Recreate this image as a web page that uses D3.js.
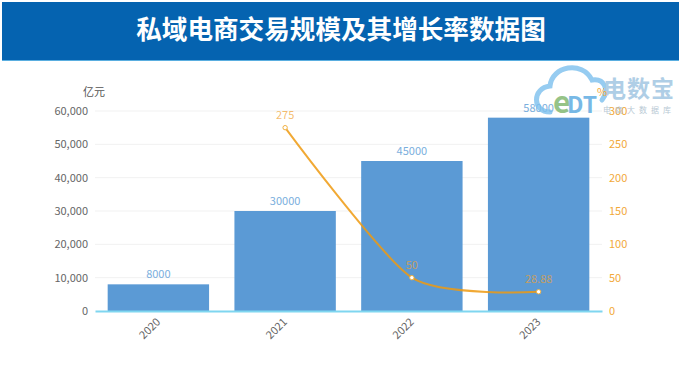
<!DOCTYPE html>
<html>
<head>
<meta charset="utf-8">
<script src="https://cdn.jsdelivr.net/npm/d3@7/dist/d3.min.js"></script>
<style>
  html, body { margin: 0; padding: 0; background: #fff; }
  svg { display: block; }
  text { font-family: "Noto Sans CJK SC", "Noto Sans", sans-serif; }
</style>
</head>
<body>
<script>
const years = ['2020', '2021', '2022', '2023']
const tradeScale = [8000, 30000, 45000, 58000]
const growthYears = ['2021', '2022', '2023']
const growthRate = [275, 50, 28.88]
const growthLabels = ['275', '50', '28.88']
const leftTicks = [0, 10000, 20000, 30000, 40000, 50000, 60000]
const rightTicks = [0, 50, 100, 150, 200, 250, 300]
const titleText = '私域电商交易规模及其增长率数据图'

const width = 679
const height = 375
const svg = d3.select('body')
              .append('svg')
              .attr('width', width)
              .attr('height', height)

// title band
svg.append('rect').attr('x', 2).attr('y', 2).attr('width', 677).attr('height', 58).attr('fill', '#0563b0')
svg.append('rect').attr('x', 2).attr('y', 60).attr('width', 677).attr('height', 1).attr('fill', '#5aaee0')
svg.append('text')
   .attr('x', 341).attr('y', 39)
   .attr('text-anchor', 'middle')
   .attr('font-size', 25.6).attr('font-weight', 700)
   .attr('fill', '#fff')
   .text(titleText)

const xScale = d3.scaleBand().domain(years).range([95, 602]).paddingInner(0.2).paddingOuter(0.1)
const yLeft = d3.scaleLinear().domain([0, 60000]).range([311, 111])
const yRight = d3.scaleLinear().domain([0, 300]).range([311, 111])

// gridlines
svg.append('g').selectAll('line')
   .data(leftTicks.slice(1))
   .join('line')
   .attr('x1', 95).attr('x2', 602)
   .attr('y1', d => yLeft(d)).attr('y2', d => yLeft(d))
   .attr('stroke', '#f1f1f1')

// left axis
const leftAxis = svg.append('g')
   .attr('transform', 'translate(95,0)')
   .call(d3.axisLeft(yLeft).tickValues(leftTicks).tickFormat(d3.format(',')).tickSize(0).tickPadding(7))
leftAxis.select('.domain').remove()
leftAxis.selectAll('text').attr('font-size', 11).attr('fill', '#666')

// right axis
const rightAxis = svg.append('g')
   .attr('transform', 'translate(602,0)')
   .call(d3.axisRight(yRight).tickValues(rightTicks).tickSize(0).tickPadding(7))
rightAxis.select('.domain').remove()
rightAxis.selectAll('text').attr('font-size', 11).attr('fill', '#f2a93b')

svg.append('text').attr('x', 94).attr('y', 96).attr('text-anchor', 'middle')
   .attr('font-size', 11).attr('fill', '#555').text('亿元')

const center = d => xScale(d) + xScale.bandwidth() / 2

svg.append('g').selectAll('rect')
   .data(tradeScale)
   .join('rect')
   .attr('x', (d, i) => xScale(years[i]))
   .attr('y', d => yLeft(d))
   .attr('width', xScale.bandwidth())
   .attr('height', d => yLeft(0) - yLeft(d))
   .attr('fill', '#5b9ad5')

svg.append('g').selectAll('text')
   .data(tradeScale)
   .join('text')
   .attr('x', (d, i) => center(years[i]))
   .attr('y', d => yLeft(d) - 6)
   .attr('text-anchor', 'middle')
   .attr('font-size', 11)
   .attr('fill', '#7aaedd')
   .text(d => d)

// x axis
const xAxis = svg.append('g')
   .attr('transform', 'translate(0,311)')
   .call(d3.axisBottom(xScale).tickSize(0).tickPadding(12))
xAxis.select('.domain').attr('stroke', '#7fd6f0').attr('stroke-width', 2)
xAxis.selectAll('text')
   .attr('font-size', 11).attr('fill', '#666')
   .attr('transform', 'translate(-12,0) rotate(-45)')
   .attr('text-anchor', 'end')
   .attr('dx', '0.2em').attr('dy', '0.6em')

// watermark logo, under the line and its labels
const logo = svg.append('g').attr('opacity', 0.8)
logo.append('path')
   .attr('d', 'M550,112 C532,112 532,88 550,86 C552,66 582,60 592,80 C604,78 610,90 602,100')
   .attr('fill', 'none').attr('stroke', '#7cc0ee').attr('stroke-width', 5).attr('stroke-linecap', 'round')
logo.append('text').attr('x', 553).attr('y', 113).attr('font-size', 30).attr('font-weight', 700)
   .attr('font-family', 'Liberation Serif').attr('fill', '#7cb56a').text('e')
logo.append('text').attr('x', 567).attr('y', 113).attr('font-size', 23).attr('font-weight', 700)
   .attr('font-family', 'Liberation Serif').attr('fill', '#57a8e0').text('DT')
logo.append('text').attr('x', 603).attr('y', 97).attr('font-size', 23).attr('font-weight', 700)
   .attr('fill', '#9cc3e0').attr('textLength', 71).text('电数宝')
logo.append('text').attr('x', 603).attr('y', 113).attr('font-size', 8)
   .attr('fill', '#a8bccb').attr('textLength', 68).text('电商大数据库')

svg.append('text').attr('x', 602).attr('y', 96).attr('text-anchor', 'middle')
   .attr('font-size', 11).attr('fill', '#f2a93b').text('%')

// growth line, a little see-through so it dulls over the bars
const line = d3.line()
   .x((d, i) => center(growthYears[i]))
   .y(d => yRight(d))
   .curve(d3.curveCardinal.tension(0.3))
svg.append('path')
   .datum(growthRate)
   .attr('fill', 'none')
   .attr('stroke', '#ee9a10')
   .attr('stroke-opacity', 0.85)
   .attr('stroke-width', 2)
   .attr('d', line)

svg.append('g').selectAll('circle')
   .data(growthRate)
   .join('circle')
   .attr('cx', (d, i) => center(growthYears[i]))
   .attr('cy', d => yRight(d))
   .attr('r', 2.2)
   .attr('fill', '#fff')
   .attr('stroke', '#f0b040')
   .attr('stroke-width', 1)

svg.append('g').selectAll('text')
   .data(growthRate)
   .join('text')
   .attr('x', (d, i) => center(growthYears[i]))
   .attr('y', d => yRight(d) - 9)
   .attr('text-anchor', 'middle')
   .attr('font-size', 11)
   .attr('fill', '#f0a030')
   .attr('fill-opacity', 0.7)
   .text((d, i) => growthLabels[i])
</script>
</body>
</html>
